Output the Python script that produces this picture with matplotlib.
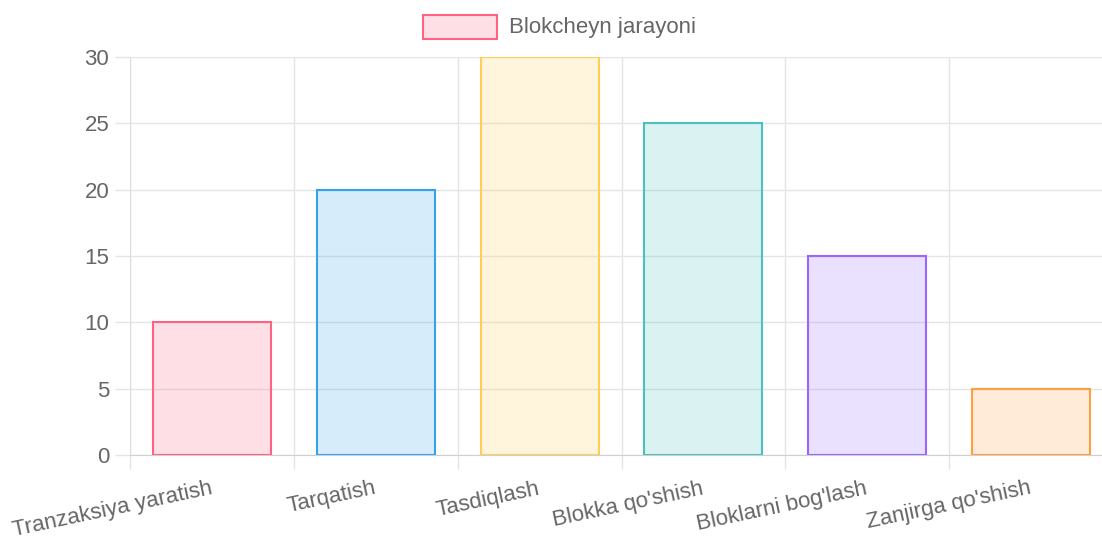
import matplotlib.pyplot as plt
from matplotlib.patches import Rectangle

categories = ["Tranzaksiya yaratish", "Tarqatish", "Tasdiqlash",
              "Blokka qo'shish", "Bloklarni bog'lash", "Zanjirga qo'shish"]
values = [10, 20, 30, 25, 15, 5]
legend_label = "Blokcheyn jarayoni"
y_ticks = [0, 5, 10, 15, 20, 25, 30]

border_colors = [(255, 99, 132), (54, 162, 235), (255, 206, 86),
                 (75, 192, 192), (153, 102, 255), (255, 159, 64)]

plt.rcParams["font.family"] = ["Liberation Sans", "DejaVu Sans"]
TEXT = "#666666"
GRID = "#e5e5e5"

W, H = 1102, 538
fig = plt.figure(figsize=(W / 100, H / 100), dpi=100)
ax = fig.add_axes([130 / W, 1 - 455 / H, (1113 - 130) / W, (455 - 57) / H])

edge = [tuple(c / 255 for c in rgb) for rgb in border_colors]
fill = [(r, g, b, 0.2) for r, g, b in edge]
x = list(range(len(categories)))
ax.bar(x, values, width=0.72, color=fill, edgecolor=edge, linewidth=1.5, zorder=3)

ax.set_xlim(-0.5, len(categories) - 0.5)
ax.set_ylim(0, 30)
ax.set_yticks(y_ticks)
ax.set_xticks(x)
ax.set_xticks([i - 0.5 for i in range(len(categories) + 1)], minor=True)
ax.set_xticklabels(categories)

ax.tick_params(axis="x", which="major", length=0, pad=24, labelsize=16, labelcolor=TEXT)
ax.tick_params(axis="x", which="minor", length=10, width=1, color=GRID)
ax.tick_params(axis="y", length=11, width=1, color=GRID, pad=4, labelsize=16, labelcolor=TEXT)
for lab in ax.get_xticklabels():
    lab.set_rotation(12)
    lab.set_ha("right")
    lab.set_va("center")
    lab.set_rotation_mode("anchor")

ax.grid(axis="y", color=GRID, linewidth=1, zorder=0)
ax.grid(axis="x", which="minor", color=GRID, linewidth=1, zorder=0)
ax.set_axisbelow(True)
for side in ["top", "right"]:
    ax.spines[side].set_visible(False)
ax.spines["left"].set_color("#dddddd")
ax.spines["bottom"].set_color("#d0d0d0")

# legend drawn like chart.js: box + label centred above the plot
fig.patches.append(Rectangle((423 / W, 1 - 39 / H), 74 / W, 24 / H,
                             transform=fig.transFigure, facecolor=fill[0],
                             edgecolor=edge[0], linewidth=1.5))
fig.text(509 / W, 1 - 27 / H, legend_label, fontsize=16, color=TEXT, va="center", ha="left")

fig.savefig("out.png", dpi=100)
